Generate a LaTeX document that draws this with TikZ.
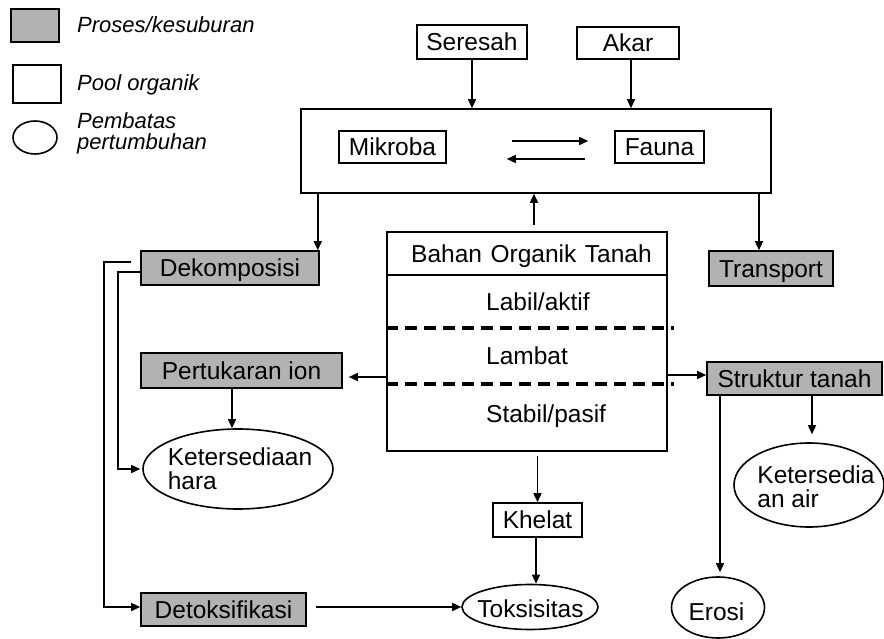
\documentclass[tikz,border=0pt]{standalone}
\usepackage{fontspec}
\setmainfont{Liberation Sans}
\usetikzlibrary{shapes.geometric,arrows.meta}
\definecolor{procgray}{RGB}{178,178,178}
\begin{document}
\begin{tikzpicture}[x=1pt,y=-1pt,
  every node/.style={inner sep=0pt, font=\fontsize{24.5}{24}\selectfont},
  boxbase/.style={draw, line width=1.6pt, text height=17.5pt, text depth=0pt},
  procbox/.style={boxbase, fill=procgray},
  poolbox/.style={boxbase, fill=white},
  limitell/.style={draw, ellipse, line width=1.6pt},
  lbl/.style={text height=17.5pt, text depth=0pt},
  mlbl/.style={align=left},
  arr/.style={line width=1.5pt, -{Triangle[length=9pt,width=8pt]}},
  dashsep/.style={line width=3.5pt, dash pattern=on 12pt off 7pt},
  legtext/.style={font=\fontsize{22}{21}\selectfont\itshape, align=left},
]
\useasboundingbox (0,0) rectangle (884,639);

% legend
\node[procbox, minimum width=48pt, minimum height=33pt] (leg1) at (35,25.5) {};
\node[poolbox, minimum width=48pt, minimum height=38pt] (leg2) at (37,84) {};
\node[limitell, minimum width=44pt, minimum height=33pt] (leg3) at (35,137.5) {};
\node[legtext, anchor=base west] (leg1t) at (77,33) {Proses/kesuburan};
\node[legtext, anchor=base west] (leg2t) at (77,91) {Pool organik};
\node[legtext, anchor=north west] (leg3t) at (77,112) {Pembatas\\pertumbuhan};

% top inputs
\node[poolbox, minimum width=110pt, minimum height=34pt] (seresah) at (472,42) {Seresah};
\node[poolbox, minimum width=102pt, minimum height=32pt] (akar) at (628,43) {Akar};

% soil biota box
\node[draw, line width=1.6pt, minimum width=470pt, minimum height=84pt] (soil) at (536,151) {};
\node[poolbox, minimum width=107pt, minimum height=32pt] (mik) at (392.5,147) {Mikroba};
\node[poolbox, minimum width=89pt, minimum height=32pt] (fauna) at (659.5,147) {Fauna};

% soil organic matter
\node[draw, line width=1.6pt, minimum width=280pt, minimum height=219pt] (bahan) at (527,341.5) {};
\draw[line width=1.6pt] (bahan.west |- 0,275) -- (bahan.east |- 0,275);
\node[anchor=base west] (bahant) at (411,263) {Bahan\hspace{0.35em}Organik\hspace{0.35em}Tanah};
\node[anchor=base west] (labil) at (486,311) {Labil/aktif};
\node[anchor=base west] (lambat) at (486,364) {Lambat};
\node[anchor=base west] (stabil) at (486,422) {Stabil/pasif};
\draw[dashsep] (bahan.west |- 0,328) -- ([xshift=6pt]bahan.east |- 0,328);
\draw[dashsep] (bahan.west |- 0,384) -- ([xshift=6pt]bahan.east |- 0,384);

% processes
\node[procbox, minimum width=178pt, minimum height=34pt] (deko) at (230,268) {Dekomposisi};
\node[procbox, minimum width=201pt, minimum height=35pt] (pert) at (241.5,370.5) {Pertukaran ion};
\node[procbox, minimum width=165pt, minimum height=33pt] (detok) at (223.5,609.5) {Detoksifikasi};
\node[procbox, minimum width=124pt, minimum height=35pt] (trans) at (771,268.5) {Transport};
\node[procbox, minimum width=175pt, minimum height=33pt] (struk) at (794.5,378.5) {Struktur tanah};
\node[poolbox, minimum width=89pt, minimum height=34pt] (khelat) at (537.5,520) {Khelat};

% limits
\node[limitell, minimum width=190pt, minimum height=80pt] (hara) at (238,469) {};
\node[mlbl] (harat) at (240,469) {Ketersediaan\\hara};
\node[limitell, minimum width=150pt, minimum height=84pt] (air) at (809,485) {};
\node[mlbl] (airt) at (816,487) {Ketersedia\\an air};
\node[limitell, minimum width=136pt, minimum height=45pt] (toks) at (530,607) {};
\node[lbl] (tokst) at (530.5,608.5) {Toksisitas};
\node[limitell, minimum width=93pt, minimum height=61pt] (erosi) at (718,607.5) {};
\node[lbl] (erosit) at (716.5,611.5) {Erosi};

% connectors
\draw[arr] (seresah.south) -- (seresah.south |- soil.north);
\draw[arr] ([xshift=3pt]akar.south) -- ([xshift=3pt]akar.south |- soil.north);
\draw[arr, shorten <=65pt, shorten >=26pt] ([yshift=6pt]mik.east) -- ([yshift=6pt]fauna.west);
\draw[arr, shorten <=29pt, shorten >=60pt] ([yshift=-12pt]fauna.west) -- ([yshift=-12pt]mik.east);
\draw[arr] ([xshift=-2pt]deko.north east |- soil.south) -- ([xshift=-2pt]deko.north east);
\draw[arr] ([xshift=7pt,yshift=6pt]bahan.north) -- ([xshift=7pt]bahan.north |- soil.south);
\draw[arr] ([xshift=-12pt]trans.north |- soil.south) -- ([xshift=-12pt]trans.north);
\draw[arr, shorten >=6pt] ([yshift=-6.5pt]pert.east -| bahan.west) -- ([yshift=-6.5pt]pert.east);
\draw[arr] ([yshift=3.5pt]struk.west -| bahan.east) -- ([yshift=3.5pt]struk.west);
\draw[arr] ([xshift=-9.5pt]pert.south) -- ([xshift=-9.5pt]pert.south |- hara.north);
\draw[arr] ([xshift=-9pt,yshift=6pt]deko.west) -- ++(-27,0) |- ([yshift=2.5pt]detok.west);
\draw[arr, shorten >=2pt] ([yshift=-4pt]deko.west) -- ++(-22,0) |- (hara.west);
\draw[arr, shorten <=9pt] (detok.east |- toks.west) -- (toks.west);
\draw[arr] ([yshift=-4pt]khelat.north |- bahan.south) -- (khelat.north);
\draw[arr] ([xshift=-1.5pt]khelat.south) -- ([xshift=-1.5pt]khelat.south |- toks.north);
\draw[arr, shorten >=8pt] ([xshift=17.5pt]struk.south) -- ([xshift=17.5pt]struk.south |- air.north);
\draw[arr, shorten >=4pt] ([xshift=2pt]erosi.north |- struk.south) -- ([xshift=2pt]erosi.north);
\end{tikzpicture}
\end{document}
